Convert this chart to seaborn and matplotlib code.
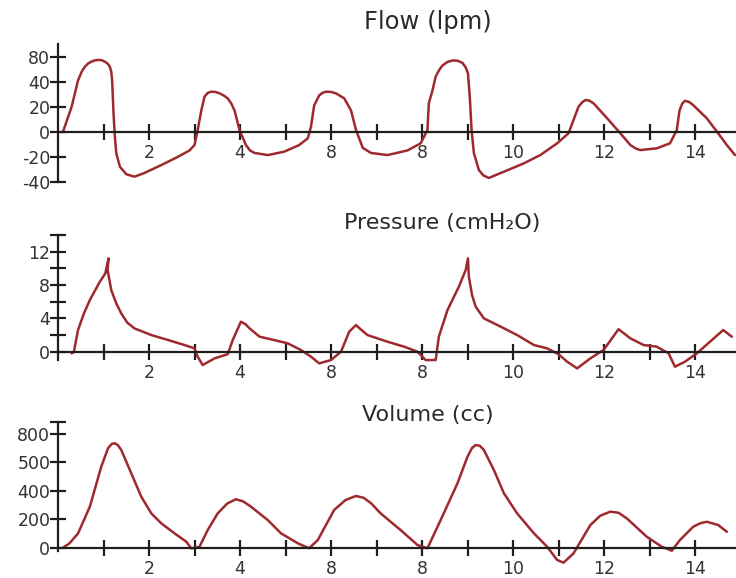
import numpy as np
import pandas as pd
import matplotlib
matplotlib.use("Agg")
import matplotlib.pyplot as plt
import seaborn as sns
from matplotlib.ticker import FixedLocator, FixedFormatter

# Values (y in the drawn axis units, tick spacing as drawn)
flow_t = [0.11, 0.30, 0.44, 0.52, 0.59, 0.66, 0.73, 0.80, 0.88, 0.96, 1.03, 1.09, 1.14, 1.17,
          1.19, 1.22, 1.25, 1.28, 1.36, 1.50,
          1.68, 1.90, 2.27, 2.64, 2.89, 3.00, 3.07, 3.15, 3.22, 3.29, 3.37, 3.46, 3.55, 3.64,
          3.73, 3.81, 3.88, 3.99,
          4.13, 4.22, 4.32, 4.61, 4.97, 5.30, 5.49, 5.56, 5.63, 5.74, 5.81, 5.89, 6.00, 6.11,
          6.29, 6.44, 6.55,
          6.70, 6.88, 7.24, 7.68, 7.97, 8.12, 8.15, 8.23, 8.30, 8.38, 8.45, 8.56, 8.67, 8.78,
          8.89, 8.96, 9.01, 9.05,
          9.09, 9.14, 9.25, 9.35, 9.47, 9.80, 10.24, 10.60, 10.97, 11.22, 11.33, 11.44, 11.52,
          11.59, 11.67, 11.77,
          12.07, 12.36, 12.58, 12.70, 12.80, 13.16, 13.45, 13.60, 13.66, 13.72, 13.78, 13.87,
          13.96, 14.26, 14.51,
          14.70, 14.88]
flow_v = [0, 20, 41, 48, 52, 54.5, 56, 57, 57.4, 57.2, 56, 54.5, 52, 48,
          41, 14.7, -4, -17, -28, -34,
          -36, -33, -26.7, -20, -15, -10.7, 1.3, 17, 28, 31, 32, 31.8, 30.7, 29,
          26.7, 22.5, 17, 1.3,
          -10.7, -15, -17, -18.7, -16, -10.7, -5.3, 4, 21, 29, 31, 32, 31.8, 30.7,
          26.7, 17, 1.3,
          -13, -17, -18.7, -15, -9.3, 1.3, 22.7, 33, 44, 49.5, 53, 55.8, 57, 56.8,
          55, 51.5, 46.7, 28,
          1.3, -17, -30.7, -35, -37, -32, -25.3, -18.7, -9.3, -1.3, 9.3, 20, 23.5,
          25.3, 25, 22.7,
          10.7, -1.3, -10.7, -13.5, -14.7, -13.3, -9.3, 1.3, 17, 22.5, 24.7, 23.8,
          21.3, 10.7, -1.3,
          -10.7, -18.7]

press_t = [0.30, 0.35, 0.44, 0.57, 0.70, 0.92, 1.04, 1.11, 1.09, 1.17, 1.28, 1.39, 1.52, 1.68,
           2.05, 2.42, 2.78,
           3.00, 3.07, 3.18, 3.44, 3.73, 3.84, 4.02, 4.12, 4.21, 4.43, 4.75, 5.05, 5.34, 5.56,
           5.74, 6.00, 6.22, 6.40, 6.55, 6.65, 6.80, 7.24, 7.61, 7.90, 8.08, 8.30, 8.37, 8.56,
           8.81, 8.96, 9.01, 9.03, 9.10, 9.18, 9.36, 9.73, 10.09, 10.46, 10.75, 11.00, 11.19,
           11.41, 11.70, 11.99, 12.32, 12.58, 12.87, 13.16, 13.42, 13.56, 13.78, 14.04, 14.33,
           14.62, 14.81]
press_v = [-0.2, 0, 2.6, 4.6, 6.2, 8.4, 9.4, 11.2, 9.8, 7.4, 5.8, 4.6, 3.5, 2.8,
           2.0, 1.4, 0.8,
           0.4, -0.6, -1.6, -0.8, -0.3, 1.4, 3.6, 3.3, 2.8, 1.8, 1.4, 1.0, 0.2, -0.6,
           -1.4, -1.0, 0, 2.4, 3.2, 2.7, 2.0, 1.2, 0.6, 0, -1.0, -1.0, 1.8, 5.0,
           7.8, 9.8, 11.2, 9.0, 6.8, 5.4, 4.0, 3.0, 2.0, 0.8, 0.4, -0.3, -1.2,
           -2.0, -0.8, 0.2, 2.7, 1.6, 0.8, 0.6, -0.2, -1.8, -1.2, -0.2, 1.2,
           2.6, 1.8]

vol_t = [0.11, 0.25, 0.44, 0.70, 0.95, 1.10, 1.18, 1.25, 1.32, 1.39, 1.61, 1.83, 2.05, 2.27,
         2.56, 2.82, 2.93,
         3.11, 3.29, 3.51, 3.72, 3.91, 4.07, 4.24, 4.61, 4.90, 5.27, 5.52, 5.71, 6.07, 6.32,
         6.55, 6.72, 6.88, 7.09,
         7.53, 7.90, 8.12, 8.41, 8.78, 9.00, 9.10, 9.18, 9.27, 9.36, 9.58, 9.80, 10.09, 10.46,
         10.75, 10.97,
         11.11, 11.33, 11.70, 11.92, 12.14, 12.32, 12.50, 12.94, 13.27, 13.49, 13.67, 13.96,
         14.12, 14.26, 14.51, 14.70]
vol_v = [0, 30, 100, 288, 568, 698, 728, 733, 718, 686, 522, 358, 241, 171,
         101, 42, -5,
         7, 124, 241, 310, 340, 325, 288, 194, 101, 31, -4, 54, 265, 335,
         363, 350, 312, 241,
         124, 19, -4, 194, 452, 639, 700, 721, 715, 686, 545, 382, 241, 101,
         7, -86,
         -105, -40, 159, 225, 253, 245, 206, 77, 7, -21, 54, 147,
         172, 182, 159, 112]

x_ticks = list(range(1, 15))
x_tick_labels = ['', '2', '', '4', '', '8', '', '8', '', '10', '', '12', '', '14']

flow_yticks = [-40, -20, 0, 20, 40, 60]
flow_ylabels = ['-40', '-20', '0', '20', '40', '80']
press_yticks = [0, 2, 4, 6, 8, 10, 12, 14]
press_ylabels = ['0', '', '4', '', '8', '', '12', '']
vol_yticks = [0, 200, 400, 600, 800, 880]
vol_ylabels = ['0', '200', '400', '500', '800', '']

titles = ['Flow (lpm)', 'Pressure (cmH₂O)', 'Volume (cc)']

LINE = '#9e2a30'
AXIS = '#1e1e1e'
W, H = 736, 578
X0_PX, PX_PER_T = 58, 45.5

sns.set_theme(style='white')
plt.rcParams['font.family'] = ['DejaVu Sans']

fig = plt.figure(figsize=(W / 100, H / 100), dpi=100)


def make_panel(top_px, bot_px, zero_px, px_per_unit, t, v, yticks, ylabels, ybounds):
    ax = fig.add_axes([0, 1 - bot_px / H, 1, (bot_px - top_px) / H])
    ax.patch.set_alpha(0)
    sns.lineplot(x=t, y=v, sort=False, estimator=None, ax=ax, color=LINE, lw=1.8)
    ax.set_xlim(-X0_PX / PX_PER_T, (W - X0_PX) / PX_PER_T)
    ax.set_ylim((zero_px - bot_px) / px_per_unit, (zero_px - top_px) / px_per_unit)
    for side in ['top', 'right']:
        ax.spines[side].set_visible(False)
    ax.spines['left'].set_position(('data', 0))
    ax.spines['bottom'].set_position(('data', 0))
    ax.spines['left'].set_bounds(*ybounds)
    ax.spines['bottom'].set_bounds(0, (W - X0_PX) / PX_PER_T)
    for side in ['left', 'bottom']:
        ax.spines[side].set_color(AXIS)
        ax.spines[side].set_linewidth(1.6)
    ax.xaxis.set_major_locator(FixedLocator(x_ticks))
    ax.xaxis.set_major_formatter(FixedFormatter(x_tick_labels))
    ax.yaxis.set_major_locator(FixedLocator(yticks))
    ax.yaxis.set_major_formatter(FixedFormatter(ylabels))
    ax.tick_params(axis='both', direction='inout', length=11, width=1.6, color=AXIS,
                   labelsize=12.5, labelcolor='#333333')
    ax.tick_params(axis='x', pad=3, bottom=True)
    ax.tick_params(axis='y', pad=0, left=True)
    ax.set_xlabel('')
    ax.set_ylabel('')
    ax.grid(False)
    return ax


make_panel(38, 200, 131.7, 1.25, flow_t, flow_v, flow_yticks, flow_ylabels, (-40, 70))
make_panel(230, 382, 351.7, 8.333, press_t, press_v, press_yticks, press_ylabels, (-1, 14))
make_panel(415, 578, 547.7, 0.1425, vol_t, vol_v, vol_yticks, vol_ylabels, (-25, 880))

fig.text(428 / W, 1 - 22 / H, titles[0], ha='center', va='center', fontsize=17.5, color='#2a2a2a')
fig.text(442 / W, 1 - 223 / H, titles[1], ha='center', va='center', fontsize=16, color='#2a2a2a')
fig.text(428 / W, 1 - 415 / H, titles[2], ha='center', va='center', fontsize=16, color='#2a2a2a')

fig.savefig('out.png', dpi=100, facecolor='white')
